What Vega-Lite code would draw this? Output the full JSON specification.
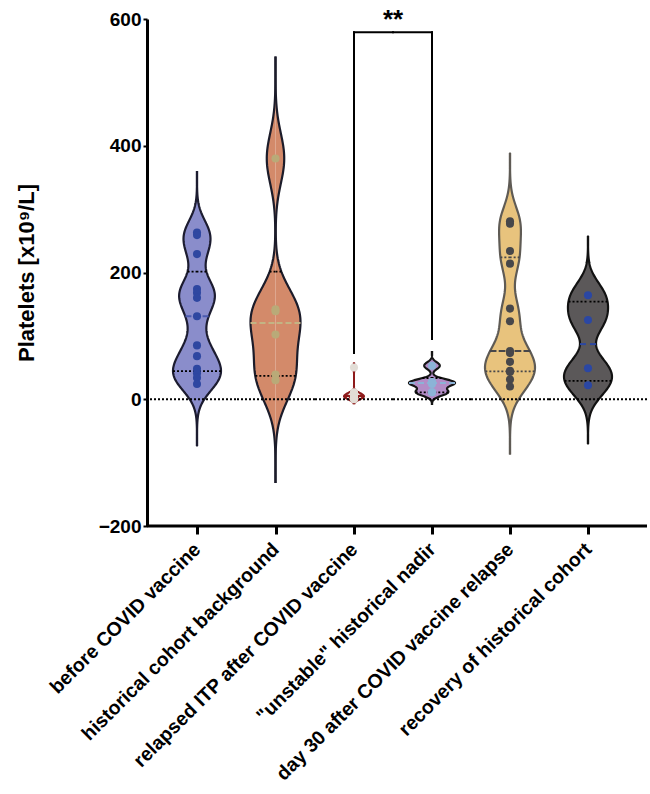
{
"$schema": "https://vega.github.io/schema/vega-lite/v6.json",
"background": "white",
"padding": {"left": 15, "top": 6, "right": 0, "bottom": 4},
"spacing": 0,
"bounds": "flush",
"config": {
  "view": {"stroke": null},
  "axis": {"labelFont": "Liberation Sans", "labelFontWeight": "bold", "labelColor": "black", "tickColor": "black", "domainColor": "black", "grid": false, "labelLimit": 0, "titleFont": "Liberation Sans", "titleFontWeight": "bold", "titleColor": "black"},
  "axisX": {"labelAngle": -45, "labelAlign": "right", "labelBaseline": "middle", "labelFontSize": 19.5, "labelPadding": 12, "domain": false, "tickSize": 8, "tickWidth": 3},
  "axisY": {"labelFontSize": 19, "titleFontSize": 22, "domainWidth": 3, "tickSize": 4, "tickWidth": 2, "labelPadding": 2, "titlePadding": 60}
},
"datasets": {
  "pts": [
    {"group": "before COVID vaccine", "value": 263}, {"group": "before COVID vaccine", "value": 259}, {"group": "before COVID vaccine", "value": 229}, {"group": "before COVID vaccine", "value": 174}, {"group": "before COVID vaccine", "value": 168}, {"group": "before COVID vaccine", "value": 160}, {"group": "before COVID vaccine", "value": 131}, {"group": "before COVID vaccine", "value": 85}, {"group": "before COVID vaccine", "value": 68}, {"group": "before COVID vaccine", "value": 48}, {"group": "before COVID vaccine", "value": 41}, {"group": "before COVID vaccine", "value": 34}, {"group": "before COVID vaccine", "value": 24},
    {"group": "historical cohort background", "value": 380}, {"group": "historical cohort background", "value": 142}, {"group": "historical cohort background", "value": 139}, {"group": "historical cohort background", "value": 102}, {"group": "historical cohort background", "value": 39}, {"group": "historical cohort background", "value": 30},
    {"group": "relapsed ITP after COVID vaccine", "value": 50}, {"group": "relapsed ITP after COVID vaccine", "value": 11}, {"group": "relapsed ITP after COVID vaccine", "value": 9}, {"group": "relapsed ITP after COVID vaccine", "value": 8}, {"group": "relapsed ITP after COVID vaccine", "value": 7}, {"group": "relapsed ITP after COVID vaccine", "value": 6}, {"group": "relapsed ITP after COVID vaccine", "value": 5}, {"group": "relapsed ITP after COVID vaccine", "value": 4}, {"group": "relapsed ITP after COVID vaccine", "value": 4}, {"group": "relapsed ITP after COVID vaccine", "value": 3}, {"group": "relapsed ITP after COVID vaccine", "value": 2}, {"group": "relapsed ITP after COVID vaccine", "value": 1}, {"group": "relapsed ITP after COVID vaccine", "value": 0},
    {"group": "\"unstable\" historical nadir", "value": 53}, {"group": "\"unstable\" historical nadir", "value": 27}, {"group": "\"unstable\" historical nadir", "value": 27}, {"group": "\"unstable\" historical nadir", "value": 24}, {"group": "\"unstable\" historical nadir", "value": 11}, {"group": "\"unstable\" historical nadir", "value": 11},
    {"group": "day 30 after COVID vaccine relapse", "value": 281}, {"group": "day 30 after COVID vaccine relapse", "value": 277}, {"group": "day 30 after COVID vaccine relapse", "value": 234}, {"group": "day 30 after COVID vaccine relapse", "value": 214}, {"group": "day 30 after COVID vaccine relapse", "value": 143}, {"group": "day 30 after COVID vaccine relapse", "value": 123}, {"group": "day 30 after COVID vaccine relapse", "value": 76}, {"group": "day 30 after COVID vaccine relapse", "value": 73}, {"group": "day 30 after COVID vaccine relapse", "value": 59}, {"group": "day 30 after COVID vaccine relapse", "value": 45}, {"group": "day 30 after COVID vaccine relapse", "value": 43}, {"group": "day 30 after COVID vaccine relapse", "value": 31}, {"group": "day 30 after COVID vaccine relapse", "value": 20},
    {"group": "recovery of historical cohort", "value": 164}, {"group": "recovery of historical cohort", "value": 125}, {"group": "recovery of historical cohort", "value": 49}, {"group": "recovery of historical cohort", "value": 22}
  ],
  "quart": [
    {"group": "before COVID vaccine", "q1": 44.5, "median": 131, "q3": 201.5},
    {"group": "historical cohort background", "q1": 36.75, "median": 120.5, "q3": 201.5},
    {"group": "relapsed ITP after COVID vaccine", "q1": 2.5, "median": 5, "q3": 8.5},
    {"group": "\"unstable\" historical nadir", "q1": 11, "median": 25.5, "q3": 33.5},
    {"group": "day 30 after COVID vaccine relapse", "q1": 44, "median": 76, "q3": 224},
    {"group": "recovery of historical cohort", "q1": 29, "median": 87, "q3": 154}
  ],
  "one": [{}]
},
"hconcat": [
{
  "width": 89, "height": 507,
  "resolve": {"scale": {"x": "independent"}, "axis": {"x": "independent"}},
  "layer": [
    {"data": {"name": "pts"},
     "transform": [{"filter": {"field": "group", "equal": "before COVID vaccine"}}, {"density": "value", "groupby": ["group"], "bandwidth": 24, "extent": [-74, 360], "steps": 200}],
     "encoding": {"x": {"field": "density", "type": "quantitative", "stack": null, "scale": {"range": [50, 26], "nice": false, "zero": true}, "axis": null},
                  "y": {"field": "value", "type": "quantitative", "scale": {"domain": [-200, 600], "nice": false}, "axis": {"values": [-200, 0, 200, 400, 600], "title": "Platelets [x10⁹/L]"}}},
     "layer": [
       {"mark": {"type": "area", "orient": "horizontal", "color": "#8A8DCB"}},
       {"mark": {"type": "line", "color": "#1C1C30", "strokeWidth": 2.2}, "encoding": {"order": {"field": "value", "type": "quantitative"}}},
       {"transform": [{"lookup": "group", "from": {"data": {"name": "quart"}, "key": "group", "fields": ["q1", "q3"]}}, {"fold": ["q1", "q3"], "as": ["stat", "q"]}, {"filter": "abs(datum.value - datum.q) <= 1.11"}],
        "mark": {"type": "rule", "color": "black", "strokeWidth": 1.8, "strokeDash": [2, 2]},
        "encoding": {"y": {"field": "q", "type": "quantitative"}, "x2": {"datum": 0}}},
       {"transform": [{"lookup": "group", "from": {"data": {"name": "quart"}, "key": "group", "fields": ["median"]}}, {"filter": "abs(datum.value - datum.median) <= 1.11"}],
        "mark": {"type": "rule", "color": "#4B5BB0", "strokeWidth": 2, "strokeDash": [6, 3]},
        "encoding": {"y": {"field": "median", "type": "quantitative"}, "x2": {"datum": 0}}}
     ]},
    {"data": {"name": "pts"},
     "transform": [{"filter": {"field": "group", "equal": "before COVID vaccine"}}, {"density": "value", "groupby": ["group"], "bandwidth": 24, "extent": [-74, 360], "steps": 200}],
     "encoding": {"x": {"field": "density", "type": "quantitative", "stack": null, "scale": {"range": [50, 74], "nice": false, "zero": true}, "axis": null},
                  "y": {"field": "value", "type": "quantitative"}},
     "layer": [
       {"mark": {"type": "area", "orient": "horizontal", "color": "#8A8DCB"}},
       {"mark": {"type": "line", "color": "#1C1C30", "strokeWidth": 2.2}, "encoding": {"order": {"field": "value", "type": "quantitative"}}},
       {"transform": [{"lookup": "group", "from": {"data": {"name": "quart"}, "key": "group", "fields": ["q1", "q3"]}}, {"fold": ["q1", "q3"], "as": ["stat", "q"]}, {"filter": "abs(datum.value - datum.q) <= 1.11"}],
        "mark": {"type": "rule", "color": "black", "strokeWidth": 1.8, "strokeDash": [2, 2]},
        "encoding": {"y": {"field": "q", "type": "quantitative"}, "x2": {"datum": 0}}},
       {"transform": [{"lookup": "group", "from": {"data": {"name": "quart"}, "key": "group", "fields": ["median"]}}, {"filter": "abs(datum.value - datum.median) <= 1.11"}],
        "mark": {"type": "rule", "color": "#4B5BB0", "strokeWidth": 2, "strokeDash": [6, 3]},
        "encoding": {"y": {"field": "median", "type": "quantitative"}, "x2": {"datum": 0}}}
     ]},
    {"data": {"name": "one"}, "mark": {"type": "rule", "color": "black", "strokeWidth": 1.8, "strokeDash": [2, 2]},
     "encoding": {"y": {"datum": 0, "type": "quantitative"}}},
    {"data": {"name": "one"}, "mark": {"type": "rule", "color": "black", "strokeWidth": 3},
     "encoding": {"y": {"datum": -200, "type": "quantitative"}}},
    {"data": {"name": "pts"},
     "transform": [{"filter": {"field": "group", "equal": "before COVID vaccine"}}],
     "mark": {"type": "circle", "size": 65, "opacity": 1, "color": "#2E47A1"},
     "encoding": {"x": {"field": "group", "type": "nominal", "scale": {"type": "point", "range": [50, 50]}, "axis": {"title": null}},
                  "y": {"field": "value", "type": "quantitative"}}}
  ]
},
{
  "width": 79, "height": 507,
  "resolve": {"scale": {"x": "independent"}, "axis": {"x": "independent"}},
  "layer": [
    {"data": {"name": "pts"},
     "transform": [{"filter": {"field": "group", "equal": "historical cohort background"}}, {"density": "value", "groupby": ["group"], "bandwidth": 40, "extent": [-132, 541], "steps": 200}],
     "encoding": {"x": {"field": "density", "type": "quantitative", "stack": null, "scale": {"range": [39.5, 14.5], "nice": false, "zero": true}, "axis": null},
                  "y": {"field": "value", "type": "quantitative", "scale": {"domain": [-200, 600], "nice": false}, "axis": null}},
     "layer": [
       {"mark": {"type": "area", "orient": "horizontal", "color": "#D38A6A"}},
       {"mark": {"type": "line", "color": "#1C1C2A", "strokeWidth": 2.2}, "encoding": {"order": {"field": "value", "type": "quantitative"}}},
       {"transform": [{"lookup": "group", "from": {"data": {"name": "quart"}, "key": "group", "fields": ["q1", "q3"]}}, {"fold": ["q1", "q3"], "as": ["stat", "q"]}, {"filter": "abs(datum.value - datum.q) <= 1.72"}],
        "mark": {"type": "rule", "color": "black", "strokeWidth": 1.8, "strokeDash": [2, 2]},
        "encoding": {"y": {"field": "q", "type": "quantitative", "axis": null}, "x2": {"datum": 0}}},
       {"transform": [{"lookup": "group", "from": {"data": {"name": "quart"}, "key": "group", "fields": ["median"]}}, {"filter": "abs(datum.value - datum.median) <= 1.72"}],
        "mark": {"type": "rule", "color": "#C3B484", "strokeWidth": 2, "strokeDash": [6, 3]},
        "encoding": {"y": {"field": "median", "type": "quantitative", "axis": null}, "x2": {"datum": 0}}}
     ]},
    {"data": {"name": "pts"},
     "transform": [{"filter": {"field": "group", "equal": "historical cohort background"}}, {"density": "value", "groupby": ["group"], "bandwidth": 40, "extent": [-132, 541], "steps": 200}],
     "encoding": {"x": {"field": "density", "type": "quantitative", "stack": null, "scale": {"range": [39.5, 64.5], "nice": false, "zero": true}, "axis": null},
                  "y": {"field": "value", "type": "quantitative", "axis": null}},
     "layer": [
       {"mark": {"type": "area", "orient": "horizontal", "color": "#D38A6A"}},
       {"mark": {"type": "line", "color": "#1C1C2A", "strokeWidth": 2.2}, "encoding": {"order": {"field": "value", "type": "quantitative"}}},
       {"transform": [{"lookup": "group", "from": {"data": {"name": "quart"}, "key": "group", "fields": ["q1", "q3"]}}, {"fold": ["q1", "q3"], "as": ["stat", "q"]}, {"filter": "abs(datum.value - datum.q) <= 1.72"}],
        "mark": {"type": "rule", "color": "black", "strokeWidth": 1.8, "strokeDash": [2, 2]},
        "encoding": {"y": {"field": "q", "type": "quantitative", "axis": null}, "x2": {"datum": 0}}},
       {"transform": [{"lookup": "group", "from": {"data": {"name": "quart"}, "key": "group", "fields": ["median"]}}, {"filter": "abs(datum.value - datum.median) <= 1.72"}],
        "mark": {"type": "rule", "color": "#C3B484", "strokeWidth": 2, "strokeDash": [6, 3]},
        "encoding": {"y": {"field": "median", "type": "quantitative", "axis": null}, "x2": {"datum": 0}}}
     ]},
    {"data": {"name": "one"}, "mark": {"type": "rule", "color": "black", "strokeWidth": 1.8, "strokeDash": [2, 2]},
     "encoding": {"y": {"datum": 0, "type": "quantitative", "axis": null}}},
    {"data": {"name": "one"}, "mark": {"type": "rule", "color": "black", "strokeWidth": 3},
     "encoding": {"y": {"datum": -200, "type": "quantitative", "axis": null}}},
    {"data": {"name": "pts"},
     "transform": [{"filter": {"field": "group", "equal": "historical cohort background"}}],
     "mark": {"type": "circle", "size": 65, "opacity": 1, "color": "#B9AA78"},
     "encoding": {"x": {"field": "group", "type": "nominal", "scale": {"type": "point", "range": [39.5, 39.5]}, "axis": {"title": null}},
                  "y": {"field": "value", "type": "quantitative", "axis": null}}}
  ]
},
{
  "width": 78, "height": 507,
  "resolve": {"scale": {"x": "independent"}, "axis": {"x": "independent"}},
  "layer": [
    {"data": {"name": "pts"},
     "transform": [{"filter": {"field": "group", "equal": "relapsed ITP after COVID vaccine"}}, {"density": "value", "groupby": ["group"], "bandwidth": 3.5, "extent": [-8, 58], "steps": 200}],
     "encoding": {"x": {"field": "density", "type": "quantitative", "stack": null, "scale": {"range": [39, 29], "nice": false, "zero": true}, "axis": null},
                  "y": {"field": "value", "type": "quantitative", "scale": {"domain": [-200, 600], "nice": false}, "axis": null}},
     "layer": [
       {"mark": {"type": "area", "orient": "horizontal", "color": "#F1ECE8"}},
       {"mark": {"type": "line", "color": "#8E1B1B", "strokeWidth": 2}, "encoding": {"order": {"field": "value", "type": "quantitative"}}},
       {"transform": [{"lookup": "group", "from": {"data": {"name": "quart"}, "key": "group", "fields": ["q1", "q3"]}}, {"fold": ["q1", "q3"], "as": ["stat", "q"]}, {"filter": "abs(datum.value - datum.q) <= 0.17"}],
        "mark": {"type": "rule", "color": "#8E1B1B", "strokeWidth": 1.8, "strokeDash": [2, 2]},
        "encoding": {"y": {"field": "q", "type": "quantitative", "axis": null}, "x2": {"datum": 0}}},
       {"transform": [{"lookup": "group", "from": {"data": {"name": "quart"}, "key": "group", "fields": ["median"]}}, {"filter": "abs(datum.value - datum.median) <= 0.17"}],
        "mark": {"type": "rule", "color": "#8E1B1B", "strokeWidth": 2, "strokeDash": [6, 3]},
        "encoding": {"y": {"field": "median", "type": "quantitative", "axis": null}, "x2": {"datum": 0}}}
     ]},
    {"data": {"name": "pts"},
     "transform": [{"filter": {"field": "group", "equal": "relapsed ITP after COVID vaccine"}}, {"density": "value", "groupby": ["group"], "bandwidth": 3.5, "extent": [-8, 58], "steps": 200}],
     "encoding": {"x": {"field": "density", "type": "quantitative", "stack": null, "scale": {"range": [39, 49], "nice": false, "zero": true}, "axis": null},
                  "y": {"field": "value", "type": "quantitative", "axis": null}},
     "layer": [
       {"mark": {"type": "area", "orient": "horizontal", "color": "#F1ECE8"}},
       {"mark": {"type": "line", "color": "#8E1B1B", "strokeWidth": 2}, "encoding": {"order": {"field": "value", "type": "quantitative"}}},
       {"transform": [{"lookup": "group", "from": {"data": {"name": "quart"}, "key": "group", "fields": ["q1", "q3"]}}, {"fold": ["q1", "q3"], "as": ["stat", "q"]}, {"filter": "abs(datum.value - datum.q) <= 0.17"}],
        "mark": {"type": "rule", "color": "#8E1B1B", "strokeWidth": 1.8, "strokeDash": [2, 2]},
        "encoding": {"y": {"field": "q", "type": "quantitative", "axis": null}, "x2": {"datum": 0}}},
       {"transform": [{"lookup": "group", "from": {"data": {"name": "quart"}, "key": "group", "fields": ["median"]}}, {"filter": "abs(datum.value - datum.median) <= 0.17"}],
        "mark": {"type": "rule", "color": "#8E1B1B", "strokeWidth": 2, "strokeDash": [6, 3]},
        "encoding": {"y": {"field": "median", "type": "quantitative", "axis": null}, "x2": {"datum": 0}}}
     ]},
    {"data": {"name": "one"}, "mark": {"type": "rule", "color": "black", "strokeWidth": 1.8, "strokeDash": [2, 2]},
     "encoding": {"y": {"datum": 0, "type": "quantitative", "axis": null}}},
    {"data": {"name": "one"}, "mark": {"type": "rule", "color": "black", "strokeWidth": 3},
     "encoding": {"y": {"datum": -200, "type": "quantitative", "axis": null}}},
    {"data": {"name": "pts"},
     "transform": [{"filter": {"field": "group", "equal": "relapsed ITP after COVID vaccine"}}],
     "mark": {"type": "circle", "size": 65, "opacity": 1, "color": "#E2DDD6"},
     "encoding": {"x": {"field": "group", "type": "nominal", "scale": {"type": "point", "range": [39, 39]}, "axis": {"title": null}},
                  "y": {"field": "value", "type": "quantitative", "axis": null}}},
    {"data": {"name": "one"}, "mark": {"type": "rule", "color": "black", "strokeWidth": 2, "strokeCap": "square"},
     "encoding": {"x": {"datum": 0, "type": "quantitative", "scale": {"domain": [-1, 1]}, "axis": null}, "y": {"datum": 579, "type": "quantitative", "axis": null}, "y2": {"datum": 73}}},
    {"data": {"name": "one"}, "mark": {"type": "rule", "color": "black", "strokeWidth": 2, "strokeCap": "square"},
     "encoding": {"x": {"datum": 0, "type": "quantitative", "scale": {"domain": [-1, 1]}, "axis": null}, "x2": {"datum": 1}, "y": {"datum": 579, "type": "quantitative", "axis": null}}},
    {"data": {"name": "one"}, "mark": {"type": "text", "text": "**", "font": "Liberation Sans", "fontWeight": "bold", "fontSize": 26, "align": "center", "baseline": "alphabetic", "color": "black"},
     "encoding": {"x": {"datum": 1, "type": "quantitative", "scale": {"domain": [-1, 1]}, "axis": null}, "y": {"datum": 586, "type": "quantitative", "axis": null}}}
  ]
},
{
  "width": 78, "height": 507,
  "resolve": {"scale": {"x": "independent"}, "axis": {"x": "independent"}},
  "layer": [
    {"data": {"name": "pts"},
     "transform": [{"filter": {"field": "group", "equal": "\"unstable\" historical nadir"}}, {"density": "value", "groupby": ["group"], "bandwidth": 5.5, "extent": [-9, 76], "steps": 200}],
     "encoding": {"x": {"field": "density", "type": "quantitative", "stack": null, "scale": {"range": [39, 16], "nice": false, "zero": true}, "axis": null},
                  "y": {"field": "value", "type": "quantitative", "scale": {"domain": [-200, 600], "nice": false}, "axis": null}},
     "layer": [
       {"mark": {"type": "area", "orient": "horizontal", "color": "#B38DC7"}},
       {"mark": {"type": "line", "color": "#151515", "strokeWidth": 2.2}, "encoding": {"order": {"field": "value", "type": "quantitative"}}},
       {"transform": [{"lookup": "group", "from": {"data": {"name": "quart"}, "key": "group", "fields": ["q1", "q3"]}}, {"fold": ["q1", "q3"], "as": ["stat", "q"]}, {"filter": "abs(datum.value - datum.q) <= 0.22"}],
        "mark": {"type": "rule", "color": "black", "strokeWidth": 1.8, "strokeDash": [2, 2]},
        "encoding": {"y": {"field": "q", "type": "quantitative", "axis": null}, "x2": {"datum": 0}}},
       {"transform": [{"lookup": "group", "from": {"data": {"name": "quart"}, "key": "group", "fields": ["median"]}}, {"filter": "abs(datum.value - datum.median) <= 0.22"}],
        "mark": {"type": "rule", "color": "#8CB3D7", "strokeWidth": 2, "strokeDash": [6, 3]},
        "encoding": {"y": {"field": "median", "type": "quantitative", "axis": null}, "x2": {"datum": 0}}}
     ]},
    {"data": {"name": "pts"},
     "transform": [{"filter": {"field": "group", "equal": "\"unstable\" historical nadir"}}, {"density": "value", "groupby": ["group"], "bandwidth": 5.5, "extent": [-9, 76], "steps": 200}],
     "encoding": {"x": {"field": "density", "type": "quantitative", "stack": null, "scale": {"range": [39, 62], "nice": false, "zero": true}, "axis": null},
                  "y": {"field": "value", "type": "quantitative", "axis": null}},
     "layer": [
       {"mark": {"type": "area", "orient": "horizontal", "color": "#B38DC7"}},
       {"mark": {"type": "line", "color": "#151515", "strokeWidth": 2.2}, "encoding": {"order": {"field": "value", "type": "quantitative"}}},
       {"transform": [{"lookup": "group", "from": {"data": {"name": "quart"}, "key": "group", "fields": ["q1", "q3"]}}, {"fold": ["q1", "q3"], "as": ["stat", "q"]}, {"filter": "abs(datum.value - datum.q) <= 0.22"}],
        "mark": {"type": "rule", "color": "black", "strokeWidth": 1.8, "strokeDash": [2, 2]},
        "encoding": {"y": {"field": "q", "type": "quantitative", "axis": null}, "x2": {"datum": 0}}},
       {"transform": [{"lookup": "group", "from": {"data": {"name": "quart"}, "key": "group", "fields": ["median"]}}, {"filter": "abs(datum.value - datum.median) <= 0.22"}],
        "mark": {"type": "rule", "color": "#8CB3D7", "strokeWidth": 2, "strokeDash": [6, 3]},
        "encoding": {"y": {"field": "median", "type": "quantitative", "axis": null}, "x2": {"datum": 0}}}
     ]},
    {"data": {"name": "one"}, "mark": {"type": "rule", "color": "black", "strokeWidth": 1.8, "strokeDash": [2, 2]},
     "encoding": {"y": {"datum": 0, "type": "quantitative", "axis": null}}},
    {"data": {"name": "one"}, "mark": {"type": "rule", "color": "black", "strokeWidth": 3},
     "encoding": {"y": {"datum": -200, "type": "quantitative", "axis": null}}},
    {"data": {"name": "pts"},
     "transform": [{"filter": {"field": "group", "equal": "\"unstable\" historical nadir"}}],
     "mark": {"type": "circle", "size": 65, "opacity": 1, "color": "#8CB3D7"},
     "encoding": {"x": {"field": "group", "type": "nominal", "scale": {"type": "point", "range": [39, 39]}, "axis": {"title": null}},
                  "y": {"field": "value", "type": "quantitative", "axis": null}}},
    {"data": {"name": "one"}, "mark": {"type": "rule", "color": "black", "strokeWidth": 2, "strokeCap": "square"},
     "encoding": {"x": {"datum": 0, "type": "quantitative", "scale": {"domain": [-1, 1]}, "axis": null}, "y": {"datum": 579, "type": "quantitative", "axis": null}, "y2": {"datum": 95}}},
    {"data": {"name": "one"}, "mark": {"type": "rule", "color": "black", "strokeWidth": 2, "strokeCap": "square"},
     "encoding": {"x": {"datum": -1, "type": "quantitative", "scale": {"domain": [-1, 1]}, "axis": null}, "x2": {"datum": 0}, "y": {"datum": 579, "type": "quantitative", "axis": null}}}
  ]
},
{
  "width": 78, "height": 507,
  "resolve": {"scale": {"x": "independent"}, "axis": {"x": "independent"}},
  "layer": [
    {"data": {"name": "pts"},
     "transform": [{"filter": {"field": "group", "equal": "day 30 after COVID vaccine relapse"}}, {"density": "value", "groupby": ["group"], "bandwidth": 27, "extent": [-87, 389], "steps": 200}],
     "encoding": {"x": {"field": "density", "type": "quantitative", "stack": null, "scale": {"range": [39, 14], "nice": false, "zero": true}, "axis": null},
                  "y": {"field": "value", "type": "quantitative", "scale": {"domain": [-200, 600], "nice": false}, "axis": null}},
     "layer": [
       {"mark": {"type": "area", "orient": "horizontal", "color": "#E8C37D"}},
       {"mark": {"type": "line", "color": "#5F5B55", "strokeWidth": 2.2}, "encoding": {"order": {"field": "value", "type": "quantitative"}}},
       {"transform": [{"lookup": "group", "from": {"data": {"name": "quart"}, "key": "group", "fields": ["q1", "q3"]}}, {"fold": ["q1", "q3"], "as": ["stat", "q"]}, {"filter": "abs(datum.value - datum.q) <= 1.22"}],
        "mark": {"type": "rule", "color": "#47474A", "strokeWidth": 1.8, "strokeDash": [2, 2]},
        "encoding": {"y": {"field": "q", "type": "quantitative", "axis": null}, "x2": {"datum": 0}}},
       {"transform": [{"lookup": "group", "from": {"data": {"name": "quart"}, "key": "group", "fields": ["median"]}}, {"filter": "abs(datum.value - datum.median) <= 1.22"}],
        "mark": {"type": "rule", "color": "#47474A", "strokeWidth": 2, "strokeDash": [6, 3]},
        "encoding": {"y": {"field": "median", "type": "quantitative", "axis": null}, "x2": {"datum": 0}}}
     ]},
    {"data": {"name": "pts"},
     "transform": [{"filter": {"field": "group", "equal": "day 30 after COVID vaccine relapse"}}, {"density": "value", "groupby": ["group"], "bandwidth": 27, "extent": [-87, 389], "steps": 200}],
     "encoding": {"x": {"field": "density", "type": "quantitative", "stack": null, "scale": {"range": [39, 64], "nice": false, "zero": true}, "axis": null},
                  "y": {"field": "value", "type": "quantitative", "axis": null}},
     "layer": [
       {"mark": {"type": "area", "orient": "horizontal", "color": "#E8C37D"}},
       {"mark": {"type": "line", "color": "#5F5B55", "strokeWidth": 2.2}, "encoding": {"order": {"field": "value", "type": "quantitative"}}},
       {"transform": [{"lookup": "group", "from": {"data": {"name": "quart"}, "key": "group", "fields": ["q1", "q3"]}}, {"fold": ["q1", "q3"], "as": ["stat", "q"]}, {"filter": "abs(datum.value - datum.q) <= 1.22"}],
        "mark": {"type": "rule", "color": "#47474A", "strokeWidth": 1.8, "strokeDash": [2, 2]},
        "encoding": {"y": {"field": "q", "type": "quantitative", "axis": null}, "x2": {"datum": 0}}},
       {"transform": [{"lookup": "group", "from": {"data": {"name": "quart"}, "key": "group", "fields": ["median"]}}, {"filter": "abs(datum.value - datum.median) <= 1.22"}],
        "mark": {"type": "rule", "color": "#47474A", "strokeWidth": 2, "strokeDash": [6, 3]},
        "encoding": {"y": {"field": "median", "type": "quantitative", "axis": null}, "x2": {"datum": 0}}}
     ]},
    {"data": {"name": "one"}, "mark": {"type": "rule", "color": "black", "strokeWidth": 1.8, "strokeDash": [2, 2]},
     "encoding": {"y": {"datum": 0, "type": "quantitative", "axis": null}}},
    {"data": {"name": "one"}, "mark": {"type": "rule", "color": "black", "strokeWidth": 3},
     "encoding": {"y": {"datum": -200, "type": "quantitative", "axis": null}}},
    {"data": {"name": "pts"},
     "transform": [{"filter": {"field": "group", "equal": "day 30 after COVID vaccine relapse"}}],
     "mark": {"type": "circle", "size": 65, "opacity": 1, "color": "#47474A"},
     "encoding": {"x": {"field": "group", "type": "nominal", "scale": {"type": "point", "range": [39, 39]}, "axis": {"title": null}},
                  "y": {"field": "value", "type": "quantitative", "axis": null}}}
  ]
},
{
  "width": 98, "height": 507,
  "resolve": {"scale": {"x": "independent"}, "axis": {"x": "independent"}},
  "layer": [
    {"data": {"name": "pts"},
     "transform": [{"filter": {"field": "group", "equal": "recovery of historical cohort"}}, {"density": "value", "groupby": ["group"], "bandwidth": 23.5, "extent": [-71, 258], "steps": 200}],
     "encoding": {"x": {"field": "density", "type": "quantitative", "stack": null, "scale": {"range": [39, 15], "nice": false, "zero": true}, "axis": null},
                  "y": {"field": "value", "type": "quantitative", "scale": {"domain": [-200, 600], "nice": false}, "axis": null}},
     "layer": [
       {"mark": {"type": "area", "orient": "horizontal", "color": "#5B5859"}},
       {"mark": {"type": "line", "color": "#121212", "strokeWidth": 2.2}, "encoding": {"order": {"field": "value", "type": "quantitative"}}},
       {"transform": [{"lookup": "group", "from": {"data": {"name": "quart"}, "key": "group", "fields": ["q1", "q3"]}}, {"fold": ["q1", "q3"], "as": ["stat", "q"]}, {"filter": "abs(datum.value - datum.q) <= 0.84"}],
        "mark": {"type": "rule", "color": "black", "strokeWidth": 1.8, "strokeDash": [2, 2]},
        "encoding": {"y": {"field": "q", "type": "quantitative", "axis": null}, "x2": {"datum": 0}}},
       {"transform": [{"lookup": "group", "from": {"data": {"name": "quart"}, "key": "group", "fields": ["median"]}}, {"filter": "abs(datum.value - datum.median) <= 0.84"}],
        "mark": {"type": "rule", "color": "#2B47A3", "strokeWidth": 2, "strokeDash": [6, 3]},
        "encoding": {"y": {"field": "median", "type": "quantitative", "axis": null}, "x2": {"datum": 0}}}
     ]},
    {"data": {"name": "pts"},
     "transform": [{"filter": {"field": "group", "equal": "recovery of historical cohort"}}, {"density": "value", "groupby": ["group"], "bandwidth": 23.5, "extent": [-71, 258], "steps": 200}],
     "encoding": {"x": {"field": "density", "type": "quantitative", "stack": null, "scale": {"range": [39, 63], "nice": false, "zero": true}, "axis": null},
                  "y": {"field": "value", "type": "quantitative", "axis": null}},
     "layer": [
       {"mark": {"type": "area", "orient": "horizontal", "color": "#5B5859"}},
       {"mark": {"type": "line", "color": "#121212", "strokeWidth": 2.2}, "encoding": {"order": {"field": "value", "type": "quantitative"}}},
       {"transform": [{"lookup": "group", "from": {"data": {"name": "quart"}, "key": "group", "fields": ["q1", "q3"]}}, {"fold": ["q1", "q3"], "as": ["stat", "q"]}, {"filter": "abs(datum.value - datum.q) <= 0.84"}],
        "mark": {"type": "rule", "color": "black", "strokeWidth": 1.8, "strokeDash": [2, 2]},
        "encoding": {"y": {"field": "q", "type": "quantitative", "axis": null}, "x2": {"datum": 0}}},
       {"transform": [{"lookup": "group", "from": {"data": {"name": "quart"}, "key": "group", "fields": ["median"]}}, {"filter": "abs(datum.value - datum.median) <= 0.84"}],
        "mark": {"type": "rule", "color": "#2B47A3", "strokeWidth": 2, "strokeDash": [6, 3]},
        "encoding": {"y": {"field": "median", "type": "quantitative", "axis": null}, "x2": {"datum": 0}}}
     ]},
    {"data": {"name": "one"}, "mark": {"type": "rule", "color": "black", "strokeWidth": 1.8, "strokeDash": [2, 2]},
     "encoding": {"y": {"datum": 0, "type": "quantitative", "axis": null}}},
    {"data": {"name": "one"}, "mark": {"type": "rule", "color": "black", "strokeWidth": 3},
     "encoding": {"y": {"datum": -200, "type": "quantitative", "axis": null}}},
    {"data": {"name": "pts"},
     "transform": [{"filter": {"field": "group", "equal": "recovery of historical cohort"}}],
     "mark": {"type": "circle", "size": 65, "opacity": 1, "color": "#2B47A3"},
     "encoding": {"x": {"field": "group", "type": "nominal", "scale": {"type": "point", "range": [39, 39]}, "axis": {"title": null}},
                  "y": {"field": "value", "type": "quantitative", "axis": null}}}
  ]
}
]
}
